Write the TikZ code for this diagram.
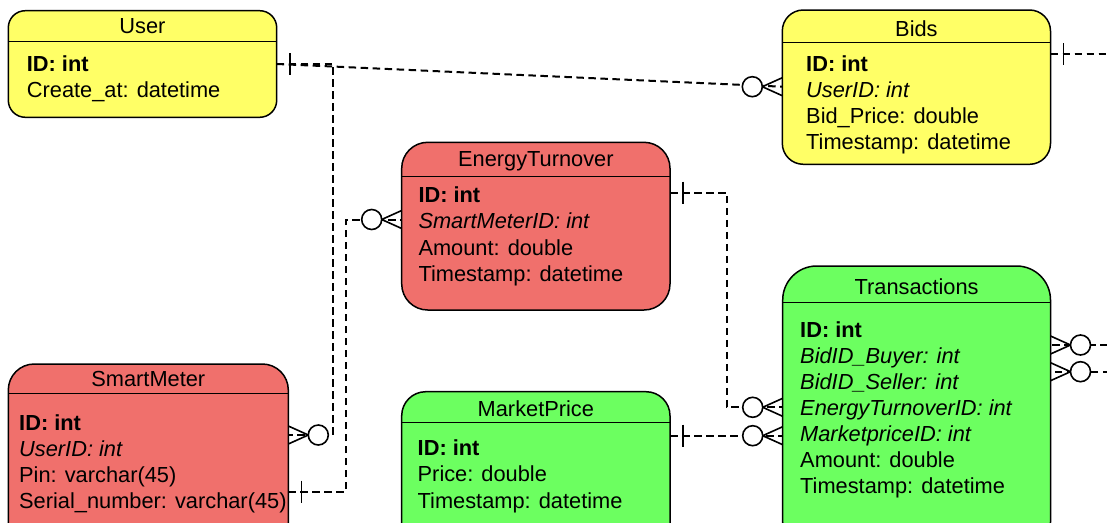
\documentclass[tikz,border=0pt]{standalone}
\usepackage{fontspec}
\setmainfont{Liberation Sans}
\definecolor{entyellow}{RGB}{255,255,102}
\definecolor{entred}{RGB}{240,112,108}
\definecolor{entgreen}{RGB}{108,255,96}
\newcommand\erfont{\fontsize{21.8pt}{26pt}\selectfont}
\tikzset{
  onebar/.pic={\draw[endmark] (13,-11) -- (13,11);},
  zeromany/.pic={
    \draw[endmark] (0,-9) -- (20,0) -- (0,9);
    \draw[endmark,fill=white] (30,0) circle (10);
  }
}
\begin{document}
\begin{tikzpicture}[x=1pt,y=-1pt,
  entity/.style={draw=black,line width=1.5pt,anchor=north west,inner sep=0pt,outer sep=0pt},
  hdr/.style={line width=1.5pt},
  title/.style={anchor=base,inner sep=0pt,font=\erfont},
  attr/.style={anchor=base west,inner sep=0pt,font=\erfont},
  key/.style={anchor=base west,inner sep=0pt,font=\erfont\bfseries},
  fk/.style={anchor=base west,inner sep=0pt,font=\erfont\itshape},
  rel/.style={line width=2pt,dash pattern=on 7.5pt off 4.5pt},
  endmark/.style={line width=1.6pt,solid}
]
\useasboundingbox (0,0) rectangle (1107,522);
\clip (0,0) rectangle (1107,522);

% ---- entities ----
\node[entity,fill=entyellow,rounded corners=17pt,minimum width=268.4pt,minimum height=106.6pt] (user) at (8.3,10.7) {};
\draw[hdr] (user.west |- 0,41.7) -- (user.east |- 0,41.7);
\node[title] (userT) at (user.north |- 0,33.3) {User};
\node[key] (uID) at (26.7,71.7) {ID: int};
\node[attr] (uCreate) at (26.7,97.5) {Create\_at: datetime};

\node[entity,fill=entyellow,rounded corners=21pt,minimum width=268.2pt,minimum height=154.3pt] (bids) at (782.3,10) {};
\draw[hdr] (bids.west |- 0,42.3) -- (bids.east |- 0,42.3);
\node[title] (bidsT) at (bids.north |- 0,36.7) {Bids};
\node[key] (bID) at (806,71.7) {ID: int};
\node[fk] (bUser) at (806,97.7) {UserID: int};
\node[attr] (bPrice) at (806,123.7) {Bid\_Price: double};
\node[attr] (bTime) at (806,149.5) {Timestamp: datetime};

\node[entity,fill=entred,rounded corners=26pt,minimum width=268.3pt,minimum height=167.7pt] (et) at (401.7,142.3) {};
\draw[hdr] (et.west |- 0,176.7) -- (et.east |- 0,176.7);
\node[title] (etT) at (et.north |- 0,166.7) {EnergyTurnover};
\node[key] (etID) at (418.3,202.7) {ID: int};
\node[fk] (etSM) at (418.3,228.7) {SmartMeterID: int};
\node[attr] (etAmount) at (418.3,255) {Amount: double};
\node[attr] (etTime) at (418.3,281.5) {Timestamp: datetime};

\node[entity,fill=entred,rounded corners=26pt,minimum width=280pt,minimum height=190pt] (sm) at (8.3,364) {};
\draw[hdr] (sm.west |- 0,393.3) -- (sm.east |- 0,393.3);
\node[title] (smT) at (sm.north |- 0,386) {SmartMeter};
\node[key] (smID) at (19,430) {ID: int};
\node[fk] (smUser) at (19,456) {UserID: int};
\node[attr] (smPin) at (19,482.2) {Pin: varchar(45)};
\node[attr] (smSerial) at (19,508.3) {Serial\_number: varchar(45)};

\node[entity,fill=entgreen,rounded corners=24pt,minimum width=268.3pt,minimum height=160pt] (mp) at (401.7,391.7) {};
\draw[hdr] (mp.west |- 0,422.7) -- (mp.east |- 0,422.7);
\node[title] (mpT) at (mp.north |- 0,416) {MarketPrice};
\node[key] (mpID) at (417.5,455) {ID: int};
\node[attr] (mpPrice) at (417.5,481.5) {Price: double};
\node[attr] (mpTime) at (417.5,508.3) {Timestamp: datetime};

\node[entity,fill=entgreen,rounded corners=34pt,minimum width=267.8pt,minimum height=290pt] (tr) at (782.7,266) {};
\draw[hdr] (tr.west |- 0,302.7) -- (tr.east |- 0,302.7);
\node[title] (trT) at (tr.north |- 0,294.3) {Transactions};
\node[key] (trID) at (800,337.3) {ID: int};
\node[fk] (trBuyer) at (800,363.3) {BidID\_Buyer: int};
\node[fk] (trSeller) at (800,389.3) {BidID\_Seller: int};
\node[fk] (trET) at (800,415.3) {EnergyTurnoverID: int};
\node[fk] (trMP) at (800,441.3) {MarketpriceID: int};
\node[attr] (trAmount) at (800,467.3) {Amount: double};
\node[attr] (trTime) at (800,493.3) {Timestamp: datetime};

% ---- attachment points on the entity borders ----
\coordinate (u-out) at (user.east |- 0,64);
\coordinate (b-in) at (bids.west |- 0,86.7);
\coordinate (b-out) at (bids.east |- 0,54);
\coordinate (sm-in) at (sm.east |- 0,435);
\coordinate (sm-out) at (sm.east |- 0,491.7);
\coordinate (et-in) at (et.west |- 0,219.5);
\coordinate (et-out) at (et.east |- 0,192.5);
\coordinate (mp-out) at (mp.east |- 0,435.7);
\coordinate (tr-et) at (tr.west |- 0,407.3);
\coordinate (tr-mp) at (tr.west |- 0,435.7);
\coordinate (tr-buy) at (tr.east |- 0,345);
\coordinate (tr-sell) at (tr.east |- 0,371.7);

% bend points of the routed relationships
\coordinate (bendUS) at (333.3,435);
\coordinate (bendSE) at (345.7,219.5);
\coordinate (bendET) at (726.7,407.3);
\coordinate (bendB1) at (1107.5,345);
\coordinate (bendB2) at (1107.5,371.7);

% ---- relationships ----
\draw[rel] (u-out) -- (b-in);
\draw[rel] (u-out) -| (bendUS) -- (sm-in);
\draw[rel] (sm-out) -| (bendSE) -- (et-in);
\draw[rel] (et-out) -| (bendET) -- (tr-et);
\draw[rel] (mp-out) -- (tr-mp);
\draw[rel] (b-out) -| (bendB1) -- (tr-buy);
\draw[rel] (b-out) -| (bendB2) -- (tr-sell);

% ---- cardinality marks ----
\pic at (u-out) {onebar};
\pic[xscale=-1] at (b-in) {zeromany};
\pic at (sm-in) {zeromany};
\pic at (sm-out) {onebar};
\pic[xscale=-1] at (et-in) {zeromany};
\pic at (et-out) {onebar};
\pic at (mp-out) {onebar};
\pic[xscale=-1] at (tr-et) {zeromany};
\pic[xscale=-1] at (tr-mp) {zeromany};
\pic at (b-out) {onebar};
\pic at (tr-buy) {zeromany};
\pic at (tr-sell) {zeromany};
\end{tikzpicture}
\end{document}
